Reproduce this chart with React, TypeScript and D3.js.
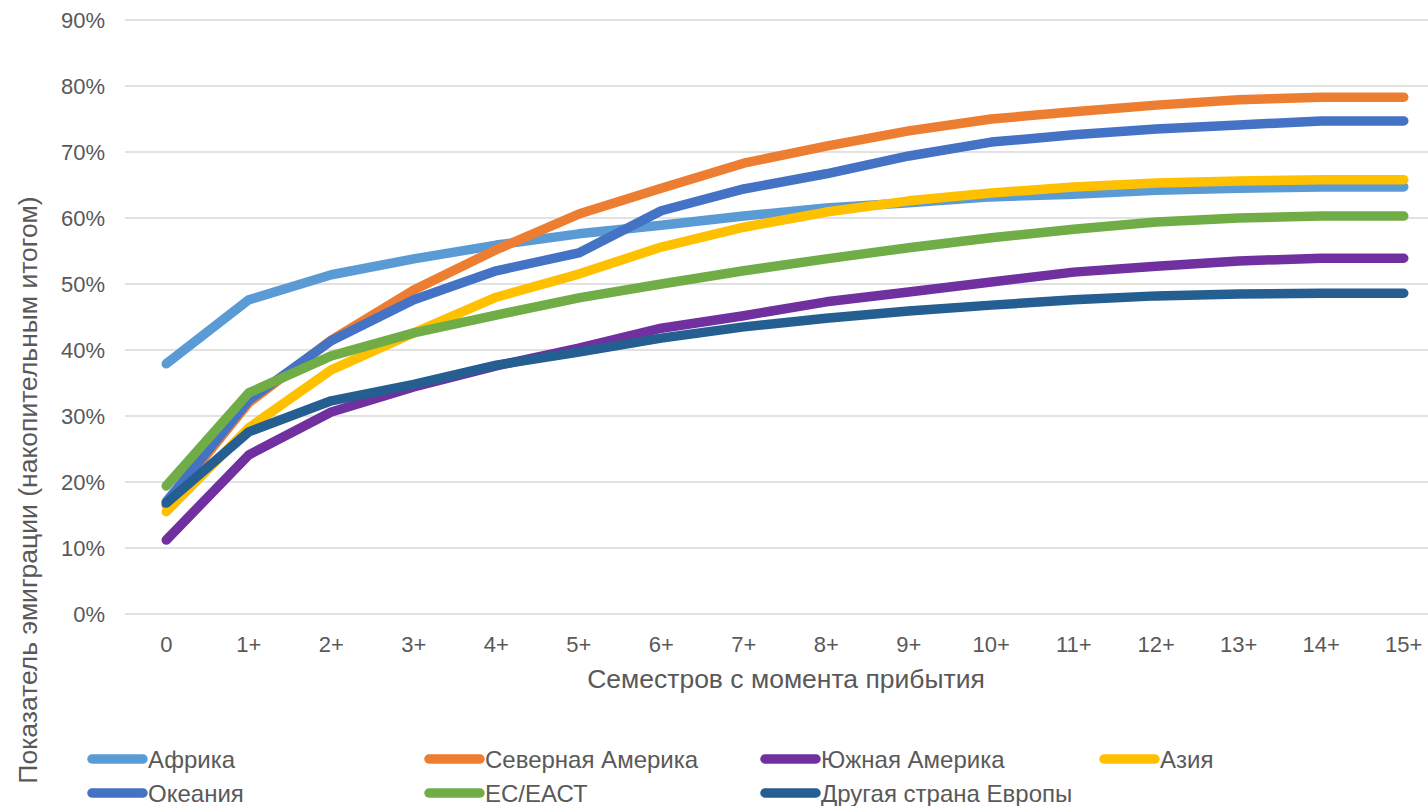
import React from "react";
import * as d3 from "d3";

const categories = ["0", "1+", "2+", "3+", "4+", "5+", "6+", "7+", "8+", "9+", "10+", "11+", "12+", "13+", "14+", "15+"];
const yTicks = [0, 0.1, 0.2, 0.3, 0.4, 0.5, 0.6, 0.7, 0.8, 0.9];

const africa = [37.9, 47.6, 51.4, 53.8, 55.9, 57.6, 58.9, 60.3, 61.5, 62.3, 63.2, 63.6, 64.2, 64.5, 64.7, 64.7];
const northAmerica = [16.5, 32.0, 41.5, 49.1, 55.2, 60.6, 64.5, 68.3, 70.9, 73.2, 75.0, 76.1, 77.1, 77.9, 78.3, 78.3];
const southAmerica = [11.2, 24.1, 30.6, 34.4, 37.6, 40.3, 43.3, 45.2, 47.3, 48.8, 50.3, 51.8, 52.7, 53.5, 53.9, 53.9];
const asia = [15.5, 28.2, 37.0, 42.6, 48.0, 51.5, 55.6, 58.6, 60.9, 62.6, 63.8, 64.7, 65.3, 65.6, 65.8, 65.8];
const oceania = [17.0, 32.4, 41.4, 47.6, 52.0, 54.7, 61.1, 64.4, 66.7, 69.4, 71.5, 72.6, 73.5, 74.1, 74.7, 74.7];
const euEfta = [19.4, 33.5, 39.1, 42.6, 45.3, 47.9, 50.0, 52.0, 53.8, 55.5, 57.0, 58.3, 59.4, 60.0, 60.3, 60.3];
const otherEurope = [16.8, 27.6, 32.3, 34.8, 37.7, 39.7, 41.8, 43.5, 44.8, 45.9, 46.8, 47.6, 48.2, 48.5, 48.6, 48.6];

const seriesNames = ["Африка", "Северная Америка", "Южная Америка", "Азия", "Океания", "ЕС/ЕАСТ", "Другая страна Европы"];
const seriesValues = [africa, northAmerica, southAmerica, asia, oceania, euEfta, otherEurope];
const seriesColors = ["#5B9BD5", "#ED7D31", "#7030A0", "#FFC000", "#4472C4", "#70AD47", "#255E91"];

const W = 1428;
const H = 806;
const FONT = "'Liberation Sans', Arial, sans-serif";

export default function App() {
  const x = d3.scaleBand<string>().domain(categories).range([125, 1445]);
  const y = d3.scaleLinear().domain([0, 0.9]).range([614, 20]);
  const cx = (c: string) => (x(c) as number) + x.bandwidth() / 2;
  const line = d3
    .line<number>()
    .x((_, i) => cx(categories[i]))
    .y((v) => y(v / 100));

  const legendCols = [88, 425, 761, 1100];
  const legendRows = [759, 793];

  return (
    <svg width={W} height={H} style={{ position: "absolute", left: 0, top: 0, background: "#fff" }} fontFamily={FONT}>
      <rect x={0} y={0} width={W} height={H} fill="#fff" />
      {yTicks.map((t) => (
        <g key={t}>
          <line x1={125} x2={W} y1={y(t)} y2={y(t)} stroke="#D9D9D9" strokeWidth={1.5} />
          <text x={105} y={y(t) + 8} textAnchor="end" fontSize={22} fill="#595959">
            {d3.format(".0%")(t)}
          </text>
        </g>
      ))}
      {categories.map((c) => (
        <text key={c} x={cx(c)} y={652} textAnchor="middle" fontSize={22} fill="#595959">
          {c}
        </text>
      ))}
      {seriesValues.map((vals, i) => (
        <path
          key={seriesNames[i]}
          d={line(vals) as string}
          fill="none"
          stroke={seriesColors[i]}
          strokeWidth={9.5}
          strokeLinecap="round"
          strokeLinejoin="round"
        />
      ))}
      <text x={786} y={688} textAnchor="middle" fontSize={26.5} fill="#595959">
        Семестров с момента прибытия
      </text>
      <text
        transform={`translate(37, 490) rotate(-90)`}
        textAnchor="middle"
        fontSize={26.5}
        fill="#595959"
      >
        Показатель эмиграции (накопительным итогом)
      </text>
      {seriesNames.map((name, i) => {
        const col = legendCols[i % 4];
        const row = legendRows[Math.floor(i / 4)];
        return (
          <g key={name}>
            <line x1={col + 4} x2={col + 55} y1={row} y2={row} stroke={seriesColors[i]} strokeWidth={9.5} strokeLinecap="round" />
            <text x={col + 60} y={row + 8.5} fontSize={24} fill="#595959">
              {name}
            </text>
          </g>
        );
      })}
    </svg>
  );
}
